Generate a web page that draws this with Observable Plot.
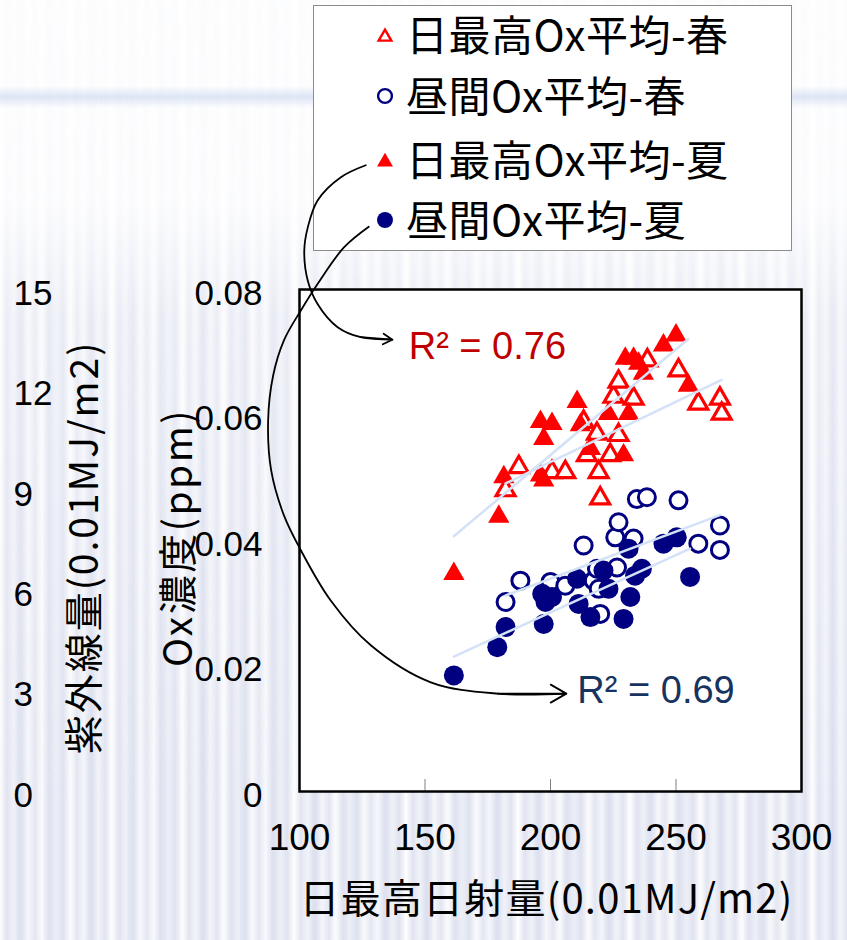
<!DOCTYPE html>
<html><head><meta charset="utf-8">
<script src="https://cdn.jsdelivr.net/npm/d3@7"></script>
<script src="https://cdn.jsdelivr.net/npm/@observablehq/plot@0.6"></script>
<style>
html,body{margin:0;padding:0;}
body{width:847px;height:940px;position:relative;overflow:hidden;background:#fff;font-family:"Noto Sans CJK JP",sans-serif;}
#band{position:absolute;left:0;top:0;width:847px;height:940px;
 background:linear-gradient(to bottom, rgba(255,255,255,0) 86px, rgba(200,214,240,0.6) 97px, rgba(255,255,255,0) 108px);}
#stripes{position:absolute;left:0;top:0;width:847px;height:940px;
 background:
  repeating-linear-gradient(90deg, rgba(205,210,230,0) 0px, rgba(205,210,230,0.55) 7px, rgba(205,210,230,0) 14px),
  repeating-linear-gradient(90deg, rgba(215,220,238,0) 0px, rgba(215,220,238,0.5) 18px, rgba(215,220,238,0) 37px);
 -webkit-mask-image:linear-gradient(to bottom, rgba(0,0,0,0.1) 0px, rgba(0,0,0,0.15) 200px, rgba(0,0,0,0.7) 320px, rgba(0,0,0,1) 800px);
 mask-image:linear-gradient(to bottom, rgba(0,0,0,0.1) 0px, rgba(0,0,0,0.15) 200px, rgba(0,0,0,0.7) 320px, rgba(0,0,0,1) 800px);}
#legend{position:absolute;left:313px;top:5px;width:479px;height:246px;background:#fff;border:1px solid #8c8c8c;box-sizing:border-box;}
.row{position:absolute;left:0;height:50px;}
.row svg{position:absolute;left:62px;top:17px;}
.row span{position:absolute;left:92px;top:-1px;white-space:nowrap;font-size:42px;letter-spacing:0.5px;color:#000;line-height:50px;}
#chart{position:absolute;left:0;top:0;}
</style></head>
<body>
<div id="band"></div>
<div id="stripes"></div>
<div id="legend"></div>
<div id="chart"></div>
<script>
// ---- data: [日最高日射量 (0.01MJ/m2), Ox濃度 (ppm)] ----
const springMaxOx = [[182.1,0.0480],[187.4,0.0517],[200.6,0.0509],[205.9,0.0509],[219.2,0.0509],[219.8,0.0467],[214.5,0.0536],[223.8,0.0536],[213.2,0.0589],[218.5,0.0570],[227.1,0.0568],[225.1,0.0629],[233.1,0.0626],[227.1,0.0653],[238.6,0.0687],[251.0,0.0671],[258.9,0.0618],[267.5,0.0626],[268.2,0.0602]];
const springDayOx = [[182.1,0.0302],[188.0,0.0336],[200.0,0.0334],[205.9,0.0328],[217.2,0.0336],[219.2,0.0323],[218.5,0.0355],[226.5,0.0357],[219.8,0.0283],[213.2,0.0392],[225.8,0.0405],[227.1,0.0429],[233.1,0.0403],[234.4,0.0466],[238.4,0.0469],[251.0,0.0464],[258.9,0.0395],[267.5,0.0424],[267.5,0.0385]];
const summerMaxOx = [[161.5,0.0347],[179.4,0.0438],[181.4,0.0501],[196.0,0.0504],[197.3,0.0496],[196.0,0.0589],[200.6,0.0586],[197.3,0.0562],[210.6,0.0621],[211.9,0.0584],[215.9,0.0546],[223.1,0.0602],[231.1,0.0602],[229.1,0.0536],[229.8,0.0690],[233.1,0.0690],[235.1,0.0682],[237.0,0.0666],[245.0,0.0711],[250.0,0.0727],[254.9,0.0647]];
const summerDayOx = [[161.5,0.0185],[178.8,0.0230],[182.1,0.0262],[197.3,0.0267],[196.7,0.0315],[200.6,0.0310],[198.0,0.0302],[210.6,0.0339],[211.2,0.0299],[215.9,0.0278],[221.1,0.0352],[223.1,0.0323],[229.1,0.0275],[231.8,0.0310],[231.1,0.0387],[236.4,0.0355],[233.7,0.0344],[245.0,0.0395],[250.3,0.0405],[255.6,0.0342]];

const legendLabels = ["日最高Ox平均-春","昼間Ox平均-春","日最高Ox平均-夏","昼間Ox平均-夏"];
const xTicks = [100,150,200,250,300];
const xInnerTicks = [150,200,250];
const yTicks = [0,0.02,0.04,0.06,0.08];
const uvTicks = [0,3,6,9,12,15];
const uvMax = 15, oxMax = 0.08;
const xTitle = "日最高日射量(0.01MJ/m2)";
const yTitle = "Ox濃度(ppm)";
const uvTitle = "紫外線量(0.01MJ/m2)";
const r2Labels = [{text:"R² = 0.76", x:143.5, y:0.0708, color:"#c00000"},
                  {text:"R² = 0.69", x:210.7, y:0.0161, color:"#17335f"}];
// annotation arrows (data coordinates), legend entry -> R² label
const arrowMax = [[126.4,0.0998],[116.5,0.0979],[107.2,0.0942],[103.3,0.0899],[101.9,0.0862],[103.3,0.0814],[107.2,0.0777],[115.2,0.0740],[124.4,0.0724],[137.0,0.0720]];
const arrowDay = [[127.6,0.0900],[117.7,0.0867],[107.4,0.0810],[100.6,0.0767],[93.8,0.0719],[89.5,0.0663],[87.5,0.0591],[88.7,0.0512],[93.8,0.0440],[100.6,0.0384],[112.5,0.0304],[128.4,0.0233],[152.3,0.0174],[178.9,0.0156],[206.3,0.0156]];

const RED = "#ff0000", NAVY = "#000080", TREND = "#d3e2f7";
const numFont = "'Liberation Sans', Arial, 'Noto Sans CJK JP', sans-serif";
const jpFont = "'Noto Sans CJK JP', sans-serif";

// legend
const legendStyles = [
  {symbol:"triangle", fill:"none", stroke:RED},
  {symbol:"circle", fill:"none", stroke:NAVY},
  {symbol:"triangle", fill:RED, stroke:"none"},
  {symbol:"circle", fill:NAVY, stroke:"none"}];
const legend = d3.select("#legend");
const rowTops = [3, 64, 128, 188];
legendLabels.forEach((lab, i) => {
  const row = legend.append("div").attr("class","row").style("top", rowTops[i]+"px").style("width","470px");
  const s = legendStyles[i];
  const svg = row.append("svg").attr("width",18).attr("height",18);
  const sym = s.symbol === "triangle" ? d3.symbolTriangle : d3.symbolCircle;
  const size = s.symbol === "triangle" ? (s.fill==="none"? 70 : 110) : (s.fill==="none"? 150 : 200);
  svg.append("path").attr("transform", s.symbol==="triangle" ? "translate(9,11)" : "translate(9,9)")
    .attr("d", d3.symbol(sym, size)())
    .attr("fill", s.fill).attr("stroke", s.stroke).attr("stroke-width", 2.4);
  row.append("span").text(lab);
});

const px = d => d[0], py = d => d[1];
const lastSeg = a => [{x1:a[a.length-2][0], y1:a[a.length-2][1], x2:a[a.length-1][0], y2:a[a.length-1][1]}];

const chart = Plot.plot({
  width: 847, height: 940,
  marginLeft: 299, marginRight: 46, marginTop: 289, marginBottom: 149,
  x: {domain: [100, 300]},
  y: {domain: [0, oxMax]},
  style: {background: "transparent", overflow: "visible", fontFamily: jpFont},
  marks: [
    Plot.frame({fill: "white"}),
    Plot.ruleX(xInnerTicks, {y1: 0, y2: 0.0019, stroke: "#808080", strokeWidth: 1}),
    Plot.dot(springMaxOx, {x: px, y: py, symbol: "triangle", r: 7.0, fill: "white", stroke: RED, strokeWidth: 3.2}),
    Plot.dot(springDayOx, {x: px, y: py, symbol: "circle", r: 8.5, fill: "white", stroke: NAVY, strokeWidth: 3}),
    Plot.dot(summerMaxOx, {x: px, y: py, symbol: "triangle", r: 7.9, fill: RED, stroke: "none"}),
    Plot.dot(summerDayOx, {x: px, y: py, symbol: "circle", r: 10, fill: NAVY, stroke: "none"}),
    Plot.linearRegressionY(springMaxOx, {x: px, y: py, stroke: TREND, strokeWidth: 2.5, ci: 0}),
    Plot.linearRegressionY(springDayOx, {x: px, y: py, stroke: TREND, strokeWidth: 2.5, ci: 0}),
    Plot.linearRegressionY(summerMaxOx, {x: px, y: py, stroke: TREND, strokeWidth: 2.5, ci: 0}),
    Plot.linearRegressionY(summerDayOx, {x: px, y: py, stroke: TREND, strokeWidth: 2.5, ci: 0}),
    Plot.frame({stroke: "black", strokeWidth: 2.5}),
    Plot.axisX(xTicks, {tickSize: 0, tickPadding: 32, fontSize: 37, fontFamily: numFont, fill: "#000", label: null}),
    Plot.axisY(yTicks, {tickSize: 0, tickPadding: 37, dy: 4, fontSize: 35, fontFamily: numFont, fill: "#000", label: null,
      tickFormat: d => d === 0 ? "0" : d.toFixed(2)}),
    Plot.text(uvTicks, {y: d => d / uvMax * oxMax, frameAnchor: "left", dx: -286, dy: 4, textAnchor: "start",
      text: d => String(d), fontSize: 35, fontFamily: numFont, fill: "#000"}),
    Plot.text([yTitle], {frameAnchor: "left", dx: -120, dy: -3, rotate: -90, textAnchor: "middle", fontSize: 39, fontFamily: jpFont, fill: "#000"}),
    Plot.text([uvTitle], {frameAnchor: "left", dx: -214, dy: 7, rotate: -90, textAnchor: "middle", fontSize: 39, fontFamily: jpFont, fill: "#000"}),
    Plot.text([xTitle], {frameAnchor: "bottom", dy: 121, dx: -4, textAnchor: "middle", fontSize: 40, fontFamily: jpFont, fill: "#000"}),
    Plot.text(r2Labels, {x: "x", y: "y", text: "text", fill: "color", textAnchor: "start", fontSize: 38, fontFamily: numFont}),
    Plot.line(arrowMax, {x: px, y: py, curve: "catmull-rom", stroke: "black", strokeWidth: 1.8}),
    Plot.line(arrowDay, {x: px, y: py, curve: "catmull-rom", stroke: "black", strokeWidth: 1.8}),
    Plot.arrow(lastSeg(arrowMax), {x1: "x1", y1: "y1", x2: "x2", y2: "y2", stroke: "black", strokeWidth: 1.8, headLength: 15, headAngle: 60}),
    Plot.arrow(lastSeg(arrowDay), {x1: "x1", y1: "y1", x2: "x2", y2: "y2", stroke: "black", strokeWidth: 1.8, headLength: 15, headAngle: 60})
  ]
});
document.getElementById("chart").appendChild(chart);
// letter spacing for the long titles
d3.select(chart).selectAll("text").each(function() {
  const t = this.textContent;
  if (t === uvTitle) this.setAttribute("letter-spacing", "2");
  if (t === yTitle) this.setAttribute("letter-spacing", "2.5");
  if (t === xTitle) this.setAttribute("letter-spacing", "1.2");
});
</script>
</body></html>
